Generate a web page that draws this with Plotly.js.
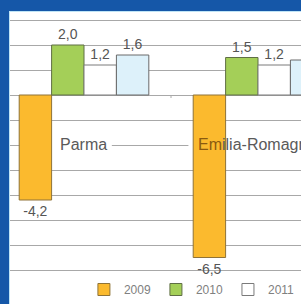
<!DOCTYPE html>
<html>
<head>
<meta charset="utf-8">
<script src="https://cdn.plot.ly/plotly-3.0.1.min.js"></script>
<style>
  html, body { margin: 0; padding: 0; background: #1557a8; overflow: hidden; }
  #frame { position: absolute; left: 0; top: 0; width: 301px; height: 304px; background: #1557a8; }
  #chart { position: absolute; left: 9px; top: 11px; width: 292px; height: 293px; background: #fff;
           border-left: 1px solid #bfe4f6; border-top: 1px solid #bfe4f6; }
</style>
</head>
<body>
<div id="frame"><div id="chart"></div></div>
<script>
const categories = ["Parma", "Emilia-Romagna"];
const seriesNames = ["2009", "2010", "2011", "2012"];
const v2009 = [-4.2, -6.5];
const v2010 = [2.0, 1.5];
const v2011 = [1.2, 1.2];
const v2012 = [1.6, 1.4];
const gridValues = [-7, -6, -5, -4, -3, -2, -1, 0, 1, 2, 3];

const fills = ["#FBBA2E", "#A4CF58", "#FFFFFF", "#DDF1FA"];
const outlines = ["#8f7338", "#5f6e45", "#7a7a7a", "#6a6a6a"];
const allValues = [v2009, v2010, v2011, v2012];

const fmt = v => v.toFixed(1).replace(".", ",");

const traces = allValues.map((vals, i) => ({
  type: "bar",
  name: seriesNames[i],
  x: categories,
  y: vals,
  text: vals.map(fmt),
  textposition: "outside",
  constraintext: "none",
  cliponaxis: false,
  textfont: { family: "Liberation Sans, Arial, sans-serif", size: 14, color: "#555555" },
  marker: { color: fills[i], line: { color: outlines[i], width: 1 } },
  showlegend: i < 3,
  hoverinfo: "none"
}));

const layout = {
  width: 291,
  height: 292,
  margin: { l: 0, r: 0, t: 0, b: 0 },
  paper_bgcolor: "#ffffff",
  plot_bgcolor: "#ffffff",
  barmode: "group",
  bargap: 0.255,
  bargroupgap: 0,
  showlegend: true,
  legend: {
    orientation: "h",
    x: 0.254, xanchor: "left",
    y: 0.0, yanchor: "bottom",
    font: { family: "Liberation Sans, Arial, sans-serif", size: 12, color: "#808080" },
    itemwidth: 30,
    traceorder: "normal",
    bgcolor: "rgba(0,0,0,0)"
  },
  xaxis: {
    type: "category",
    range: [-0.4253, 1.2471],
    showticklabels: false,
    showgrid: false,
    zeroline: false,
    showline: false,
    ticks: ""
  },
  yaxis: {
    range: [-8.36, 3.32],
    tickmode: "array",
    tickvals: gridValues,
    showticklabels: false,
    showgrid: true,
    gridcolor: "#a8a8a8",
    gridwidth: 1,
    zeroline: true,
    zerolinecolor: "#a8a8a8",
    zerolinewidth: 1,
    showline: false,
    ticks: ""
  },
  shapes: [
    { type: "rect", layer: "between", xref: "x", yref: "y", x0: -0.2, x1: 0.16, y0: -2.25, y1: -1.75,
      fillcolor: "#ffffff", line: { width: 0 } },
    { type: "rect", layer: "between", xref: "x", yref: "y", x0: 0.6, x1: 1.3, y0: -2.25, y1: -1.75,
      fillcolor: "#ffffff", line: { width: 0 } },
    { type: "line", layer: "between", xref: "x", yref: "y", x0: 0.5, x1: 0.5, y0: 0, y1: -0.12,
      line: { color: "#a8a8a8", width: 1 } }
  ],
  annotations: [
    { text: categories[0], xref: "x", yref: "y", x: -0.15, y: -2, xanchor: "left", yanchor: "middle",
      yshift: 1, showarrow: false,
      font: { family: "Liberation Sans, Arial, sans-serif", size: 16, color: "#5a5a5a" } },
    { text: "<span style='fill:#8a5a10'>Em</span>ilia-Romagna", xref: "x", yref: "y", x: 0.645, y: -2,
      xanchor: "left", yanchor: "middle", yshift: 1, showarrow: false,
      font: { family: "Liberation Sans, Arial, sans-serif", size: 16, color: "#5a5a5a" } }
  ]
};

Plotly.newPlot("chart", traces, layout, { staticPlot: true, displayModeBar: false });
</script>
</body>
</html>
